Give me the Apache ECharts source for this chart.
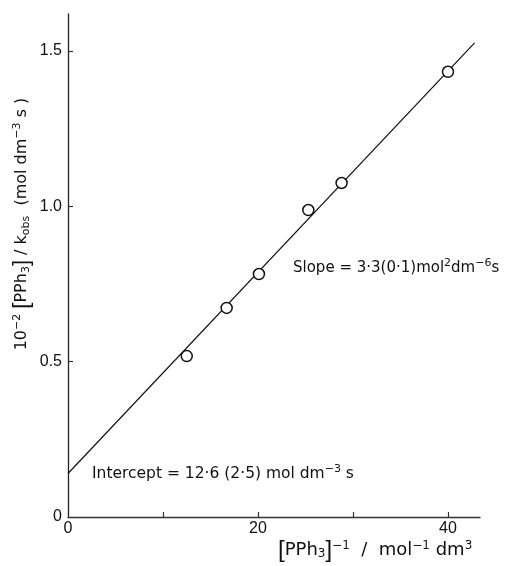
<!DOCTYPE html>
<html><head><meta charset="utf-8">
<script src="https://cdn.jsdelivr.net/npm/echarts@6/dist/echarts.min.js"></script>
<style>html,body{margin:0;padding:0;background:#fff}#c{width:506px;height:566px}</style>
</head><body><div id="c"></div>
<script>
// data
const pointsX = [12.5, 16.7, 20.1, 25.3, 28.8, 40.0];
const pointsY = [0.518, 0.673, 0.782, 0.988, 1.075, 1.433];
const fitX = [0, 42.8];
const fitY = [0.140, 1.526];
const xTickLabels = [0, 20, 40];
const xTickMarks = [10, 20, 30, 40];
const yTickLabels = [0, 0.5, 1.0, 1.5];
const yTickMarks = [0.5, 1.0, 1.5];
const xMax = 43.37;
const yMax = 1.619;

const FONT = '"DejaVu Sans", "Liberation Sans", sans-serif';
const TFONT = '"Liberation Sans", Arial, sans-serif';
const INK = '#111';
function rich(base, sup) {
  return {
    n: {fontSize: base, fontFamily: FONT, fill: INK, color: INK, lineHeight: 20},
    s: {fontSize: sup, fontFamily: FONT, fill: INK, color: INK, lineHeight: 12, verticalAlign: 'top'},
    b: {fontSize: sup, fontFamily: FONT, fill: INK, color: INK, lineHeight: 12, verticalAlign: 'bottom'},
    br: {fontSize: base + 6, fontFamily: TFONT, fill: INK, color: INK, lineHeight: 20}
  };
}

const chart = echarts.init(document.getElementById('c'), null, {renderer: 'canvas'});
chart.setOption({
  animation: false,
  backgroundColor: '#fff',
  grid: {left: 68, right: 26, top: 14, bottom: 49, containLabel: false, outerBoundsMode: 'none'},
  xAxis: {
    type: 'value', min: 0, max: xMax,
    splitLine: {show: false},
    axisLine: {show: true, lineStyle: {color: '#333', width: 1.3}},
    axisTick: {show: true, inside: true, length: 5, customValues: xTickMarks, lineStyle: {color: '#333', width: 1.2}},
    axisLabel: {customValues: xTickLabels, color: INK, fontFamily: TFONT, fontSize: 16, margin: 4,
      formatter: v => String(v)}
  },
  yAxis: {
    type: 'value', min: 0, max: yMax,
    splitLine: {show: false},
    axisLine: {show: true, lineStyle: {color: '#222', width: 1.3}},
    axisTick: {show: true, inside: true, length: 5, customValues: yTickMarks, lineStyle: {color: '#333', width: 1.2}},
    axisLabel: {customValues: yTickLabels, color: INK, fontFamily: TFONT, fontSize: 16, margin: 6,
      formatter: v => v === 0 ? '0' : v.toFixed(1)}
  },
  series: [
    {type: 'line', data: fitX.map((x, i) => [x, fitY[i]]), symbol: 'none', silent: true,
      lineStyle: {color: INK, width: 1.2}, z: 1},
    {type: 'scatter', data: pointsX.map((x, i) => [x, pointsY[i]]), symbol: 'circle', symbolSize: 11,
      itemStyle: {color: '#fff', borderColor: INK, borderWidth: 1.5, opacity: 1}, z: 3}
  ],
  graphic: [
    {type: 'text', x: 22, y: 224, rotation: Math.PI / 2,
      style: {text: '{n|10}{s|−2}{n| }{br|[}{n|PPh}{b|3}{br|]}{n| / k}{b|obs}{n|  (mol dm}{s|−3}{n| s )}',
        rich: rich(16, 11), textAlign: 'center', textVerticalAlign: 'middle'}},
    {type: 'text', x: 278, y: 550,
      style: {text: '{br|[}{n|PPh}{b|3}{br|]}{s|−1}{n|  /  mol}{s|−1}{n| dm}{s|3}',
        rich: rich(18, 12), textAlign: 'left', textVerticalAlign: 'middle'}},
    {type: 'text', x: 293, y: 268,
      style: {text: '{n|Slope = 3·3(0·1)mol}{s|2}{n|dm}{s|−6}{n|s}',
        rich: rich(15, 11), textAlign: 'left', textVerticalAlign: 'middle'}},
    {type: 'text', x: 92, y: 474,
      style: {text: '{n|Intercept = 12·6 (2·5) mol dm}{s|−3}{n| s}',
        rich: rich(15.5, 11), textAlign: 'left', textVerticalAlign: 'middle'}}
  ]
});
</script></body></html>
